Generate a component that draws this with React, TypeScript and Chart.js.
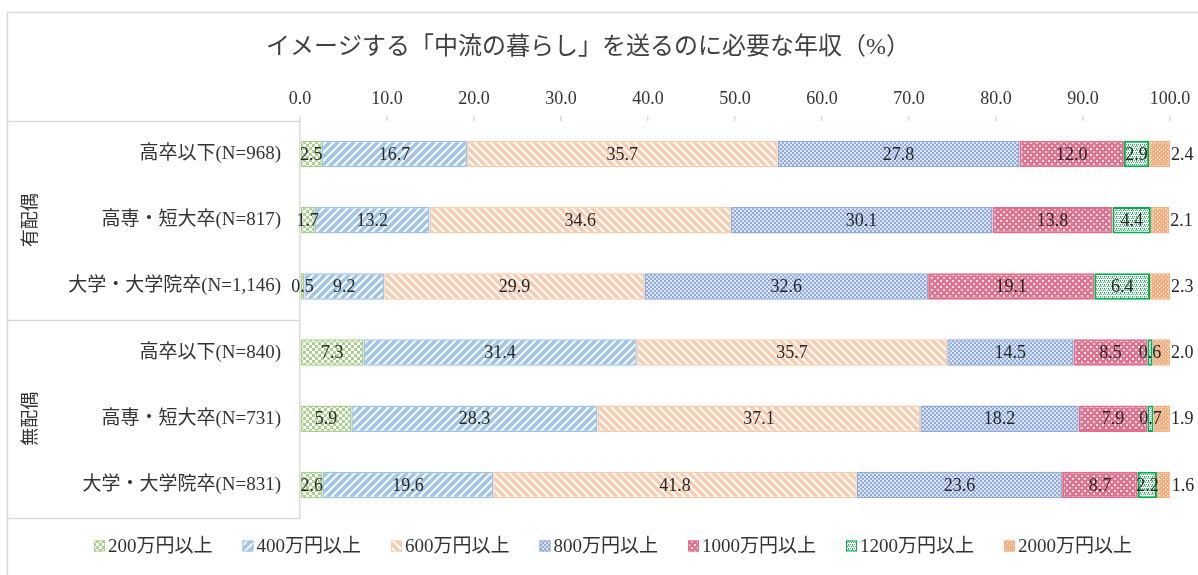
import React, { useEffect, useRef } from "react";
import { Chart, registerables } from "chart.js";

Chart.register(...registerables);

const TITLE = "イメージする「中流の暮らし」を送るのに必要な年収（%）";
const categories = [
  "高卒以下(N=968)",
  "高専・短大卒(N=817)",
  "大学・大学院卒(N=1,146)",
  "高卒以下(N=840)",
  "高専・短大卒(N=731)",
  "大学・大学院卒(N=831)",
];
const groupNames = ["有配偶", "無配偶"];
const seriesNames = ["200万円以上", "400万円以上", "600万円以上", "800万円以上", "1000万円以上", "1200万円以上", "2000万円以上"];
const v200 = [2.5, 1.7, 0.5, 7.3, 5.9, 2.6];
const v400 = [16.7, 13.2, 9.2, 31.4, 28.3, 19.6];
const v600 = [35.7, 34.6, 29.9, 35.7, 37.1, 41.8];
const v800 = [27.8, 30.1, 32.6, 14.5, 18.2, 23.6];
const v1000 = [12.0, 13.8, 19.1, 8.5, 7.9, 8.7];
const v1200 = [2.9, 4.4, 6.4, 0.6, 0.7, 2.2];
const v2000 = [2.4, 2.1, 2.3, 2.0, 1.9, 1.6];
const seriesValues = [v200, v400, v600, v800, v1000, v1200, v2000];
const xMin = 0;
const xMax = 100;
const xStep = 10;

const FONT = '"Liberation Serif", "DejaVu Serif", "Noto Sans CJK JP", serif';

type Tile = (ctx: CanvasRenderingContext2D, s: number) => void;

function makePattern(size: number, draw: Tile): CanvasPattern | string {
  const c = document.createElement("canvas");
  c.width = size;
  c.height = size;
  const g = c.getContext("2d")!;
  draw(g, size);
  const p = g.createPattern(c, "repeat");
  return p || "#ccc";
}

function checker(color: string, bg: string, cell: number): Tile {
  return (g, s) => {
    g.fillStyle = bg;
    g.fillRect(0, 0, s, s);
    g.fillStyle = color;
    for (let y = 0; y < s; y += cell) {
      for (let x = 0; x < s; x += cell) {
        if (((x / cell) + (y / cell)) % 2 === 0) g.fillRect(x, y, cell, cell);
      }
    }
  };
}

function diag(color: string, up: boolean, lw: number): Tile {
  return (g, s) => {
    g.fillStyle = "#fff";
    g.fillRect(0, 0, s, s);
    g.strokeStyle = color;
    g.lineWidth = lw;
    g.lineCap = "square";
    for (let k = -1; k <= 1; k++) {
      g.beginPath();
      if (up) {
        g.moveTo(k * s, s);
        g.lineTo(k * s + s, 0);
      } else {
        g.moveTo(k * s, 0);
        g.lineTo(k * s + s, s);
      }
      g.stroke();
    }
  };
}

function dots(bg: string, dot: string, pts: number[][], d: number): Tile {
  return (g, s) => {
    g.fillStyle = bg;
    g.fillRect(0, 0, s, s);
    g.fillStyle = dot;
    pts.forEach(([x, y]) => g.fillRect(x, y, d, d));
  };
}

const borderColors = ["#a9d18e", "#9dc3e6", "#f8cbad", "#8faadc", "#e06d8c", "#00b050", "#f4b183"];
const borderWidths = [1.5, 1.5, 1.5, 1.5, 2, 2, 1.5];

function buildPatterns() {
  return [
    makePattern(6, checker("#a9d18e", "#ffffff", 3)),
    makePattern(8, diag("#9dc3e6", true, 3.4)),
    makePattern(8, diag("#f8cbad", false, 3.4)),
    makePattern(4, checker("#8faadc", "#dde5f5", 2)),
    makePattern(6, dots("#e3728f", "#fbe3ea", [[1, 1], [4, 4]], 2)),
    makePattern(4, dots("#ffffff", "#2fb866", [[0, 0], [2, 0], [1, 2], [3, 2], [0, 1]], 1)),
    makePattern(4, dots("#f4b183", "#fdeee3", [[1, 1], [3, 3]], 1)),
  ];
}

export default function App() {
  const ref = useRef<HTMLCanvasElement | null>(null);

  useEffect(() => {
    document.body.style.margin = "0";
    const canvas = ref.current;
    if (!canvas) return;
    const patterns = buildPatterns();

    const decor = {
      id: "decor",
      beforeDraw(chart: any) {
        const ctx = chart.ctx as CanvasRenderingContext2D;
        const area = chart.chartArea;
        const ys = chart.scales.y;
        ctx.save();
        ctx.fillStyle = "#fff";
        ctx.fillRect(0, 0, chart.width, chart.height);
        ctx.strokeStyle = "#d9d9d9";
        ctx.lineWidth = 1.5;
        ctx.beginPath();
        ctx.moveTo(7.5, chart.height);
        ctx.lineTo(7.5, 12.5);
        ctx.lineTo(chart.width, 12.5);
        ctx.stroke();
        const sepYs = [area.top, (ys.getPixelForValue(2) + ys.getPixelForValue(3)) / 2, area.bottom];
        sepYs.forEach((y: number) => {
          ctx.beginPath();
          ctx.moveTo(7.5, Math.round(y) + 0.5);
          ctx.lineTo(area.left, Math.round(y) + 0.5);
          ctx.stroke();
        });
        ctx.fillStyle = "#404040";
        ctx.font = `24px ${FONT}`;
        ctx.textAlign = "center";
        ctx.textBaseline = "middle";
        ctx.fillText(TITLE, 588, 48);
        ctx.font = `18px ${FONT}`;
        ctx.fillStyle = "#333";
        groupNames.forEach((name, gi) => {
          const yc = ys.getPixelForValue(gi * 3 + 1);
          ctx.save();
          ctx.translate(31, yc);
          ctx.rotate(-Math.PI / 2);
          ctx.fillText(name, 0, 0);
          ctx.restore();
        });
        ctx.restore();
      },
      afterDatasetsDraw(chart: any) {
        const ctx = chart.ctx as CanvasRenderingContext2D;
        ctx.save();
        ctx.font = `18px ${FONT}`;
        ctx.fillStyle = "#262626";
        ctx.textBaseline = "middle";
        const last = chart.data.datasets.length - 1;
        chart.data.datasets.forEach((ds: any, di: number) => {
          const meta = chart.getDatasetMeta(di);
          meta.data.forEach((bar: any, i: number) => {
            const v = ds.data[i] as number;
            const txt = v.toFixed(1);
            if (di === last) {
              ctx.textAlign = "left";
              ctx.fillText(txt, bar.x + 1, bar.y + 1);
            } else {
              ctx.textAlign = "center";
              ctx.fillText(txt, (bar.x + bar.base) / 2, bar.y + 1);
            }
          });
        });
        ctx.restore();
      },
      afterDraw(chart: any) {
        const ctx = chart.ctx as CanvasRenderingContext2D;
        ctx.save();
        ctx.font = `19px ${FONT}`;
        ctx.textBaseline = "middle";
        ctx.textAlign = "left";
        const box = 11;
        const gapText = 3;
        const gapItem = 30;
        const widths = seriesNames.map((n) => box + gapText + ctx.measureText(n).width);
        const total = widths.reduce((a, b) => a + b, 0) + gapItem * (widths.length - 1);
        let x = 613 - total / 2;
        const y = 546;
        chart.data.datasets.forEach((ds: any, i: number) => {
          ctx.fillStyle = ds.backgroundColor;
          ctx.fillRect(x, y - box / 2, box, box);
          ctx.strokeStyle = ds.borderColor;
          ctx.lineWidth = 1;
          ctx.strokeRect(x + 0.5, y - box / 2 + 0.5, box - 1, box - 1);
          ctx.fillStyle = "#333";
          ctx.fillText(seriesNames[i], x + box + gapText, y + 1);
          x += widths[i] + gapItem;
        });
        ctx.restore();
      },
    };

    const chart = new Chart(canvas, {
      type: "bar",
      data: {
        labels: categories,
        datasets: seriesValues.map((vals, i) => ({
          label: seriesNames[i],
          data: vals,
          backgroundColor: patterns[i] as any,
          borderColor: borderColors[i],
          borderWidth: borderWidths[i],
          borderSkipped: false,
          barPercentage: 0.4,
          categoryPercentage: 1,
        })),
      },
      options: {
        indexAxis: "y",
        responsive: false,
        animation: false,
        events: [],
        layout: { padding: { left: 0, right: 28, top: 0, bottom: 57 } },
        plugins: {
          legend: { display: false },
          title: { display: false },
          tooltip: { enabled: false },
        },
        scales: {
          x: {
            position: "top",
            stacked: true,
            min: xMin,
            max: xMax,
            afterFit: (s: any) => {
              s.height = 121;
            },
            ticks: {
              stepSize: xStep,
              padding: 6,
              color: "#333",
              font: { family: FONT, size: 18 },
              callback: (v: any) => Number(v).toFixed(1),
              maxRotation: 0,
            },
            grid: {
              drawOnChartArea: false,
              drawTicks: true,
              tickLength: 5,
              color: "#d9d9d9",
              lineWidth: 1.5,
            },
            border: { display: false },
          },
          y: {
            stacked: true,
            afterFit: (s: any) => {
              s.width = 300;
            },
            ticks: {
              padding: 19,
              color: "#333",
              font: { family: FONT, size: 19 },
            },
            grid: { display: true, drawOnChartArea: false, drawTicks: false },
            border: { display: true, color: "#d9d9d9", width: 1.5 },
          },
        },
      },
      plugins: [decor],
    });

    return () => chart.destroy();
  }, []);

  return <canvas ref={ref} width={1198} height={575} style={{ display: "block", width: 1198, height: 575 }} />;
}
